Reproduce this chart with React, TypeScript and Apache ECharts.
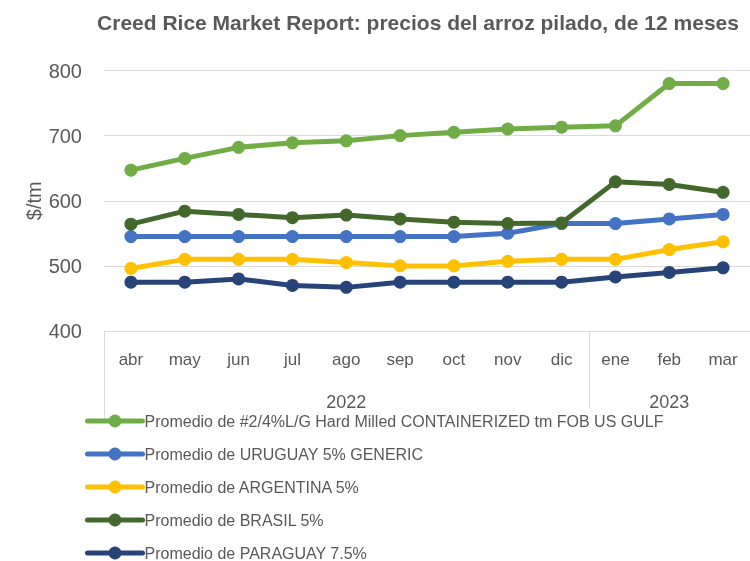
import React, { useEffect, useRef } from "react";
import * as echarts from "echarts";

const months = ["abr", "may", "jun", "jul", "ago", "sep", "oct", "nov", "dic", "ene", "feb", "mar"];
const years = ["2022", "2023"];
const yearFirstIndex = [0, 9];
const yearLastIndex = [8, 11];

const seriesNames = [
  "Promedio de #2/4%L/G Hard Milled CONTAINERIZED tm FOB US GULF",
  "Promedio de URUGUAY 5% GENERIC",
  "Promedio de ARGENTINA 5%",
  "Promedio de BRASIL 5%",
  "Promedio de PARAGUAY 7.5%",
];
const usGulf = [647, 665, 682, 689, 692, 700, 705, 710, 713, 715, 780, 780];
const uruguay = [545, 545, 545, 545, 545, 545, 545, 550, 565, 565, 572, 579];
const argentina = [496, 510, 510, 510, 505, 500, 500, 507, 510, 510, 525, 537];
const brasil = [564, 584, 579, 574, 578, 572, 567, 565, 566, 629, 625, 613];
const paraguay = [475, 475, 480, 470, 467, 475, 475, 475, 475, 483, 490, 497];
const seriesData = [usGulf, uruguay, argentina, brasil, paraguay];
const colors = ["#70AD47", "#4472C4", "#FFC000", "#43682B", "#264478"];

const FONT = "Liberation Sans";
const GRAY = "#595959";

export default function App() {
  const ref = useRef<HTMLDivElement>(null);
  useEffect(() => {
    if (!ref.current) return;
    const chart = echarts.init(ref.current, undefined, { renderer: "svg" });
    chart.setOption({
      animation: false,
      color: colors,
      textStyle: { fontFamily: FONT },
      title: {
        text: "Creed Rice Market Report: precios del arroz pilado, de 12 meses",
        left: 413,
        top: 7,
        textAlign: "center",
        textStyle: { fontFamily: FONT, fontSize: 21, fontWeight: "bold", color: GRAY },
      },
      grid: { left: 104, right: -2, top: 70.5, bottom: 230, containLabel: false },
      xAxis: {
        type: "category",
        data: months,
        boundaryGap: true,
        axisLine: { show: true, lineStyle: { color: "#d9d9d9", width: 1 } },
        axisTick: { show: false },
        axisLabel: { fontSize: 17, color: GRAY, margin: 20, fontFamily: FONT },
      },
      yAxis: {
        type: "value",
        min: 400,
        max: 800,
        interval: 100,
        name: "$/tm",
        nameLocation: "middle",
        nameGap: 60,
        nameMoveOverlap: false,
        nameTextStyle: { fontSize: 20, color: GRAY, fontFamily: FONT },
        axisLine: { show: false },
        axisTick: { show: false },
        axisLabel: { fontSize: 20, color: GRAY, margin: 22, fontFamily: FONT },
        splitLine: { lineStyle: { color: "#d9d9d9", width: 1 } },
      },
      legend: {
        orient: "vertical",
        left: 85,
        top: 413,
        padding: 0,
        itemWidth: 55,
        itemHeight: 16,
        itemGap: 17,
        lineStyle: { width: 5, cap: "round" },
        textStyle: { fontSize: 16, lineHeight: 14, color: GRAY, fontFamily: FONT, padding: [0, 0, 0, -3] },
        data: seriesNames,
      },
      series: seriesNames.map((name, i) => ({
        name,
        type: "line",
        data: seriesData[i],
        symbol: "circle",
        symbolSize: 13,
        lineStyle: { width: 5, color: colors[i] },
        itemStyle: { color: colors[i] },
      })),
    });

    const xs = months.map((m) => chart.convertToPixel({ xAxisIndex: 0 }, m) as number);
    const step = (xs[xs.length - 1] - xs[0]) / (xs.length - 1);
    const yAxisPx = chart.convertToPixel({ yAxisIndex: 0 }, 400) as number;
    const graphics: any[] = [];
    const leftEdge = xs[0] - step / 2;
    graphics.push({
      type: "line",
      shape: { x1: Math.round(leftEdge) + 0.5, y1: yAxisPx, x2: Math.round(leftEdge) + 0.5, y2: yAxisPx + 92 },
      style: { stroke: "#d9d9d9", lineWidth: 1 },
    });
    years.forEach((y, k) => {
      const a = xs[yearFirstIndex[k]] - step / 2;
      const b = xs[yearLastIndex[k]] + step / 2;
      if (k > 0) {
        graphics.push({
          type: "line",
          shape: { x1: Math.round(a) + 0.5, y1: yAxisPx, x2: Math.round(a) + 0.5, y2: yAxisPx + 77 },
          style: { stroke: "#d9d9d9", lineWidth: 1 },
        });
      }
      graphics.push({
        type: "text",
        x: (a + b) / 2,
        y: yAxisPx + 71,
        style: {
          text: y,
          fontSize: 18,
          fontFamily: FONT,
          fill: GRAY,
          align: "center",
          verticalAlign: "middle",
        },
      });
    });
    chart.setOption({ graphic: graphics });
    return () => chart.dispose();
  }, []);
  return (
    <div
      ref={ref}
      style={{ position: "fixed", left: 0, top: 0, width: 750, height: 561, overflow: "hidden" }}
    />
  );
}
